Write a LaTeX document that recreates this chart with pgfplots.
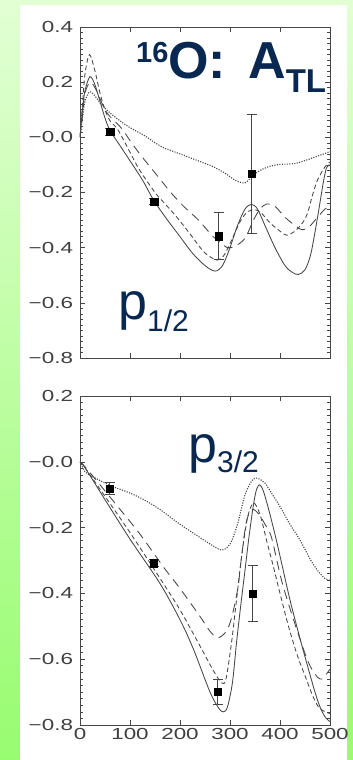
\documentclass[border=0pt]{standalone}
\usepackage{fontspec}
\setmainfont{Liberation Sans}
\usepackage{graphicx}
\usepackage{pgfplots}
\pgfplotsset{compat=1.18}
\definecolor{navy}{RGB}{8,40,82}
\definecolor{bgtop}{RGB}{226,255,212}
\definecolor{bgbot}{RGB}{152,252,112}
\definecolor{axgray}{RGB}{70,70,70}
\newcommand{\tl}[1]{\scalebox{1.4}[1]{#1}}
\pgfplotsset{
 myaxis/.style={
  scale only axis, width=250pt, anchor=south west,
  xmin=0, xmax=500,
  xtick={0,100,200,300,400,500},
  axis line style={axgray, line width=0.9pt},
  tick style={axgray, line width=0.6pt},
  major tick length=5pt, minor tick length=3pt,
  tick align=inside,
  minor y tick num=9,
  ticklabel style={font=\fontsize{16}{16}\selectfont, text=black!75},
  yticklabel style={xshift=-3.5pt},
 },
 solidc/.style={axgray, line width=0.85pt, smooth},
 sdash/.style={axgray, line width=0.85pt, smooth, dash pattern=on 4.5pt off 3pt},
 ldash/.style={axgray, line width=0.85pt, smooth, dash pattern=on 9pt off 6pt},
 dotc/.style={axgray, line width=1.1pt, smooth, dash pattern=on 1.1pt off 1.4pt},
 datapts/.style={only marks, mark=square*, mark size=3.7pt, black,
  error bars/.cd, y dir=both, y explicit,
  error bar style={axgray, line width=0.8pt},
  error mark options={rotate=90, mark size=5pt, axgray, line width=0.8pt}},
}
\begin{document}
\begin{tikzpicture}
\shade[top color=bgtop, bottom color=bgbot] (0pt,0pt) rectangle (353pt,760pt);
\fill[white] (20pt,0pt) rectangle (347pt,755pt);

% ---------- top panel ----------
\begin{axis}[myaxis, at={(80pt,402pt)}, height=331pt,
  ymin=-0.8, ymax=0.4,
  ytick={-0.8,-0.6,-0.4,-0.2,0,0.2,0.4},
  yticklabels={\tl{−0.8},\tl{−0.6},\tl{−0.4},\tl{−0.2},\tl{−0.0},\tl{0.2},\tl{0.4}},
  xticklabels={}]
\addplot[solidc] coordinates {(0,0.0) (5,0.10) (10,0.17) (20,0.22) (30,0.19) (40,0.13) (50,0.07) (60,0.025) (80,-0.03) (100,-0.085) (125,-0.155) (148,-0.23) (175,-0.30) (200,-0.36) (225,-0.42) (250,-0.465) (270,-0.485) (285,-0.465) (300,-0.40) (315,-0.32) (330,-0.26) (343,-0.243) (355,-0.26) (370,-0.32) (390,-0.40) (410,-0.465) (425,-0.49) (437,-0.497) (450,-0.48) (462,-0.42) (476,-0.28) (486,-0.17) (493,-0.11) (500,-0.10)};
\addplot[sdash] coordinates {(0,0.0) (5,0.12) (10,0.23) (19,0.30) (30,0.24) (40,0.16) (50,0.10) (60,0.06) (76,0.027) (100,-0.054) (119,-0.118) (150,-0.20) (169,-0.239) (193,-0.288) (220,-0.35) (245,-0.41) (260,-0.433) (275,-0.445) (287,-0.43) (297,-0.397) (310,-0.345) (322,-0.30) (335,-0.27) (350,-0.262) (363,-0.275) (380,-0.31) (400,-0.34) (413,-0.355) (430,-0.34) (445,-0.31) (455,-0.275) (465,-0.21) (475,-0.155) (490,-0.107) (500,-0.09)};
\addplot[ldash] coordinates {(0,0.0) (5,0.08) (10,0.16) (20,0.20) (30,0.18) (40,0.14) (50,0.10) (60,0.075) (83,0.033) (105,-0.025) (129,-0.082) (155,-0.14) (183,-0.203) (210,-0.255) (237,-0.30) (263,-0.354) (280,-0.38) (295,-0.40) (310,-0.395) (330,-0.366) (347,-0.30) (360,-0.26) (373,-0.242) (390,-0.25) (410,-0.29) (433,-0.324) (445,-0.335) (458,-0.325) (475,-0.29) (490,-0.26) (500,-0.25)};
\addplot[dotc] coordinates {(0,0.0) (5,0.07) (10,0.13) (19,0.165) (30,0.15) (40,0.125) (59,0.09) (80,0.06) (100,0.035) (130,0.005) (163,-0.034) (200,-0.06) (249,-0.094) (267,-0.107) (290,-0.13) (310,-0.155) (330,-0.165) (345,-0.14) (360,-0.12) (380,-0.105) (400,-0.098) (430,-0.095) (460,-0.078) (480,-0.065) (500,-0.052)};
\addplot[datapts] coordinates {(60,0.02) +- (0,0.012) (148,-0.233) +- (0,0.01) (277,-0.358) +- (0,0.085) (343,-0.132) +- (0,0.215)};
\end{axis}

% ---------- bottom panel ----------
\begin{axis}[myaxis, at={(80pt,35pt)}, height=329pt,
  ymin=-0.8, ymax=0.2,
  ytick={-0.8,-0.6,-0.4,-0.2,0,0.2},
  yticklabels={\tl{−0.8},\tl{−0.6},\tl{−0.4},\tl{−0.2},\tl{−0.0},\tl{0.2}},
  xticklabels={\tl{0},\tl{100},\tl{200},\tl{300},\tl{400},\tl{500}}]
\addplot[solidc] coordinates {(0,0.0) (10,-0.018) (50,-0.115) (100,-0.235) (160,-0.37) (200,-0.48) (227,-0.57) (260,-0.70) (278,-0.75) (287,-0.76) (295,-0.745) (305,-0.67) (313,-0.55) (322,-0.43) (330,-0.33) (337,-0.24) (345,-0.15) (352,-0.09) (359,-0.07) (367,-0.09) (380,-0.16) (393,-0.24) (405,-0.32) (420,-0.42) (437,-0.52) (455,-0.62) (470,-0.70) (480,-0.745) (490,-0.775) (500,-0.79)};
\addplot[sdash] coordinates {(0,0.0) (10,-0.018) (50,-0.105) (100,-0.215) (160,-0.354) (200,-0.45) (240,-0.56) (265,-0.63) (283,-0.672) (292,-0.66) (303,-0.55) (313,-0.42) (323,-0.29) (335,-0.17) (347,-0.125) (360,-0.16) (373,-0.238) (387,-0.32) (400,-0.40) (417,-0.50) (435,-0.59) (450,-0.65) (465,-0.71) (477,-0.745) (490,-0.76) (500,-0.765)};
\addplot[ldash] coordinates {(0,0.0) (10,-0.015) (40,-0.07) (83,-0.15) (120,-0.22) (167,-0.32) (200,-0.385) (240,-0.47) (260,-0.515) (275,-0.535) (290,-0.52) (300,-0.49) (310,-0.43) (317,-0.37) (323,-0.29) (333,-0.18) (345,-0.145) (358,-0.16) (370,-0.19) (383,-0.23) (403,-0.36) (425,-0.47) (447,-0.57) (460,-0.62) (475,-0.655) (485,-0.66) (493,-0.645) (500,-0.63)};
\addplot[dotc] coordinates {(0,0.0) (10,-0.03) (25,-0.045) (60,-0.072) (100,-0.095) (130,-0.117) (160,-0.145) (200,-0.19) (230,-0.22) (255,-0.245) (283,-0.268) (300,-0.25) (315,-0.19) (330,-0.10) (345,-0.055) (355,-0.05) (370,-0.065) (385,-0.10) (400,-0.136) (420,-0.19) (440,-0.238) (460,-0.295) (475,-0.33) (490,-0.355) (500,-0.36)};
\addplot[datapts] coordinates {(59,-0.081) +- (0,0.018) (147,-0.308) +- (0,0.01) (275,-0.699) +- (0,0.039) (345,-0.40) +- (0,0.085)};
\end{axis}

% ---------- titles ----------
\node[anchor=base west, inner sep=0, text=navy, font=\bfseries\fontsize{52}{52}\selectfont] at (136pt,681pt)
  {\raisebox{16.5pt}{\fontsize{29}{29}\selectfont 16}O:\hspace{22pt}A\raisebox{-14pt}{\fontsize{33}{33}\selectfont TL}};
\node[anchor=base west, inner sep=0, text=navy, font=\fontsize{52}{52}\selectfont] at (118pt,440pt)
  {p\raisebox{-12pt}{\fontsize{30}{30}\selectfont 1/2}};
\node[anchor=base west, inner sep=0, text=navy, font=\fontsize{52}{52}\selectfont] at (188pt,297pt)
  {p\raisebox{-10pt}{\fontsize{30}{30}\selectfont 3/2}};

\pgfresetboundingbox
\useasboundingbox (0pt,0pt) rectangle (353pt,760pt);
\end{tikzpicture}
\end{document}
